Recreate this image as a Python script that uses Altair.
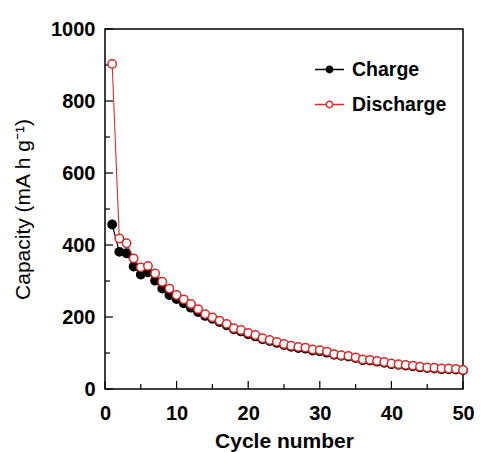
import altair as alt
import pandas as pd

cycles = list(range(1, 51))
charge = [457, 381, 377, 340, 318, 324, 301, 279, 261, 250,
          238, 226, 214, 203, 195, 186, 177, 166, 160, 152,
          146, 138, 133, 128, 122, 117, 114, 112, 107, 105,
          101, 95, 92, 90, 86, 80, 79, 76, 73, 69,
          67, 65, 63, 60, 58, 57, 55, 55, 54, 52]
discharge = [903, 418, 405, 363, 338, 342, 321, 298, 279, 261,
             249, 236, 222, 208, 199, 190, 181, 169, 164, 156,
             150, 141, 136, 131, 125, 120, 117, 115, 110, 108,
             104, 97, 94, 92, 88, 82, 81, 78, 75, 71,
             69, 67, 65, 62, 60, 59, 57, 57, 56, 53]
series_names = ["Charge", "Discharge"]
x_major = [0, 10, 20, 30, 40, 50]
x_minor = [5, 15, 25, 35, 45]
y_major = [0, 200, 400, 600, 800, 1000]
y_minor = [100, 300, 500, 700, 900]

W, H = 358, 360
FONT = "Liberation Sans"
RED = "#dc2b2b"

df = pd.DataFrame({
    "cycle": cycles * 2,
    "cap": charge + discharge,
    "series": ["Charge"] * len(cycles) + ["Discharge"] * len(cycles),
})

xs = alt.Scale(domain=[0, 50], nice=False, zero=False)
ys = alt.Scale(domain=[0, 1000], nice=False)

legend_path = ("M-1,0H-0.22 M0.22,0H1 "
               "M-0.22,0A0.22,0.22 0 1,0 0.22,0A0.22,0.22 0 1,0 -0.22,0Z")
leg = alt.Legend(title=None, orient="none", legendX=209, legendY=25,
                 symbolType=legend_path, symbolSize=841, symbolStrokeWidth=1.5,
                 labelFont=FONT, labelFontSize=19.5, labelFontWeight="bold",
                 labelColor="black", labelOffset=7, rowPadding=10)
stroke_enc = alt.Stroke("series:N", scale=alt.Scale(domain=series_names, range=["black", RED]), legend=leg)
fill_enc = alt.Fill("series:N", scale=alt.Scale(domain=series_names, range=["black", "white"]), legend=leg)

x_enc = alt.X("cycle:Q", scale=xs, title="Cycle number",
              axis=alt.Axis(values=x_major, format="d", ticks=False, domain=False, grid=False,
                            labelFlush=False, labelOverlap=False,
                            labelFont=FONT, labelFontSize=20, labelFontWeight="bold",
                            labelColor="black", labelPadding=14,
                            titleFont=FONT, titleFontSize=21, titleFontWeight="bold",
                            titleColor="black", titlePadding=7))
y_enc = alt.Y("cap:Q", scale=ys, title="Capacity (mA h g⁻¹)",
              axis=alt.Axis(values=y_major, format="d", ticks=False, domain=False, grid=False,
                            labelFlush=False, labelOverlap=False,
                            labelFont=FONT, labelFontSize=20, labelFontWeight="bold",
                            labelColor="black", labelPadding=10,
                            titleFont=FONT, titleFontSize=21, titleFontWeight="normal",
                            titleColor="black", titlePadding=17))

base = alt.Chart(df)
line_c = base.transform_filter(alt.datum.series == "Charge").mark_line(strokeWidth=1.2).encode(
    x=x_enc, y=y_enc, stroke=stroke_enc)
pts_c = base.transform_filter(alt.datum.series == "Charge").mark_point(
    shape="circle", size=70, strokeWidth=1.5, opacity=1, filled=False).encode(
    x="cycle:Q", y="cap:Q", stroke=stroke_enc, fill=fill_enc)
line_d = base.transform_filter(alt.datum.series == "Discharge").mark_line(strokeWidth=1.1).encode(
    x="cycle:Q", y="cap:Q", stroke=stroke_enc)
pts_d = base.transform_filter(alt.datum.series == "Discharge").mark_point(
    shape="circle", size=70, strokeWidth=1.5, opacity=1, filled=False).encode(
    x="cycle:Q", y="cap:Q", stroke=stroke_enc, fill=fill_enc)

def xticks(vals, length):
    return alt.Chart(pd.DataFrame({"t": vals})).mark_rule(color="black", strokeWidth=1.2).encode(
        x=alt.X("t:Q", scale=xs), y=alt.value(H), y2=alt.value(H - length))

def yticks(vals, length):
    return alt.Chart(pd.DataFrame({"v": vals})).mark_rule(color="black", strokeWidth=1.2).encode(
        y=alt.Y("v:Q", scale=ys), x=alt.value(0), x2=alt.value(length))

chart = alt.layer(
    xticks(x_major, 8), xticks(x_minor, 5), yticks(y_major, 8), yticks(y_minor, 5),
    line_c, pts_c, line_d, pts_d
).resolve_scale(stroke="shared", fill="shared").properties(
    width=W, height=H,
    background="white",
    autosize=alt.AutoSizeParams(type="none"),
    padding={"left": 105, "top": 29, "right": 26, "bottom": 63},
).configure_view(stroke="black", strokeWidth=1.5)

chart.save("out.html", embed_options={"renderer": "svg", "actions": False})
